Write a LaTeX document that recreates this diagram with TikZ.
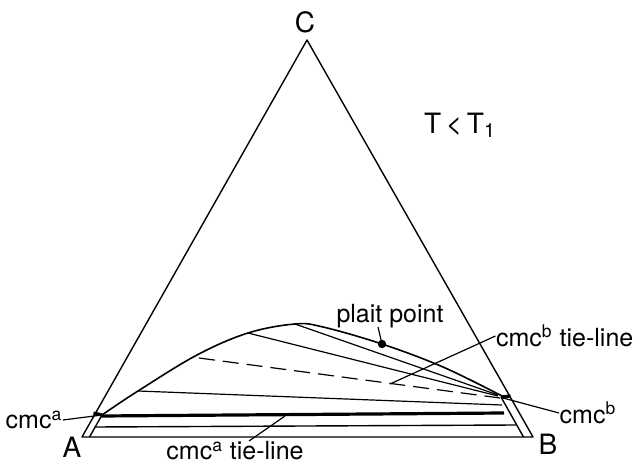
\documentclass[tikz,border=0pt]{standalone}
\usepackage{fontspec}
\setmainfont{TeX Gyre Heros}
\begin{document}
\begin{tikzpicture}[x=0.5pt,y=-0.5pt, line width=0.7pt, line join=round,
  lbl/.style={font=\fontsize{12.5}{14}\selectfont, inner sep=0pt},
  big/.style={font=\fontsize{14}{16}\selectfont, inner sep=0pt},
  tie/.style={line width=0.6pt},
  lead/.style={line width=0.6pt},
  dash tie/.style={line width=0.6pt, dash pattern=on 8pt off 4pt}]
\useasboundingbox (0,0) rectangle (638,465);
% vertices
\coordinate (C) at (307,40);
\coordinate (A) at (82,437);
\coordinate (B) at (533,437);
\draw (A) -- (C) -- (B) -- cycle;
% left strip
\coordinate (La) at (93.5,413);
\coordinate (Lb) at (102,415);
\coordinate (Lc) at (89.5,437);
\draw (Lb) -- (Lc);
\draw[line width=1.6pt] (La) -- (Lb);
% right strip
\coordinate (Ra) at (510.5,396);
\coordinate (Rb) at (501,397);
\coordinate (Rc) at (523.5,437);
\draw (Rb) -- (Rc);
\draw[line width=1.6pt] (Ra) -- (Rb);
% horizontal lines
\coordinate (H1a) at (101,416);
\coordinate (H1b) at (504,413);
\coordinate (H2a) at (95,427);
\coordinate (H2b) at (516,425);
\draw[line width=1.6pt] (H1a) -- (H1b);
\draw (H2a) -- (H2b);
% binodal curve
\coordinate (P1) at (138,391);
\coordinate (P2) at (197,355);
\coordinate (P3) at (248,333);
\coordinate (P4) at (295,324);
\coordinate (PP) at (382,344);
\coordinate (Pend) at (502,396);
\draw[line width=0.8pt] plot[smooth, tension=0.6] coordinates {(Lb) (P1) (P2) (P3) (P4) (323,327) (PP) (443,367) (Pend)};
% tie lines
\coordinate (T1) at (502,405);
\coordinate (Td) at (500,398);
\coordinate (T3) at (498,396);
\coordinate (T4) at (498,395);
\draw[tie] (P1) -- (T1);
\draw[dash tie] (199,358) -- (Td);
\draw[tie] (P3) -- (T3);
\draw[tie] (P4) -- (T4);
\fill (PP) circle (4.2);
% labels
\node[big] (lC) at (305,22) {C};
\node[big] (lT) at (460,125) {T\,<\,T\textsubscript{1}};
\node[big] (lA) at (72,447) {A};
\node[big] (lB) at (548,444) {B};
\node[lbl] (lpp) at (390,316) {plait point};
\node[lbl, anchor=east] (lbt) at (634,336) {cmc\textsuperscript{b} tie-line};
\node[lbl] (lat) at (235,451) {cmc\textsuperscript{a} tie-line};
\node[lbl] (la) at (34,420) {cmc\textsuperscript{a}};
\node[lbl] (lb) at (588,413) {cmc\textsuperscript{b}};
% leaders
\coordinate (dashpt) at (390,384);
\coordinate (atpt) at (285,416);
\coordinate (atst) at (249,441);
\draw[lead] (378,327) -- (PP);
\draw[lead] (lbt.west) -- (dashpt);
\draw[lead] (atst) -- (atpt);
\draw[lead] (la.east) -- (Lb);
\draw[lead] (lb.west) -- (503,398);
\end{tikzpicture}
\end{document}
